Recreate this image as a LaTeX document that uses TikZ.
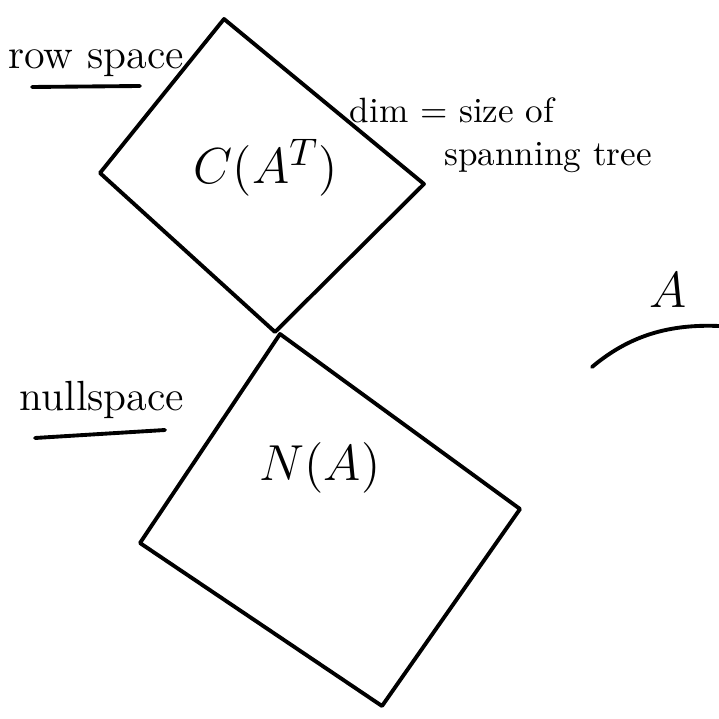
\documentclass[tikz,border=0pt]{standalone}
\usepackage{tikz}
\usetikzlibrary{positioning}
\begin{document}
\begin{tikzpicture}[x=0.1mm,y=-0.1mm,
  edge/.style={line width=1.1pt,line cap=round,line join=round},
  big/.style={font=\fontsize{15}{18}\selectfont,inner sep=1pt},
  note/.style={font=\fontsize{12}{14}\selectfont,inner sep=1pt},
  small/.style={font=\fontsize{10}{12}\selectfont,inner sep=1pt}]
  \useasboundingbox (0,0) rectangle (719,719);
  % row space square
  \coordinate (rt) at (224,19);
  \coordinate (rr) at (424,184);
  \coordinate (rb) at (275,332);
  \coordinate (rl) at (100,173);
  \draw[edge] (rt) -- (rr) -- (rb) -- (rl) -- cycle;
  \node[big] (crow) at (266,168) {$C(A^{T})$};
  \node[note] (rowlbl) at (96,63) {row space};
  \coordinate (rowu1) at (32,87);
  \coordinate (rowu2) at (140,86);
  \draw[edge] (rowu1) -- (rowu2);
  \node[small] (dimlbl) at (452,110) {dim $=$ size of};
  \node[small] (spanlbl) at (548,158) {spanning tree};
  % nullspace square
  \coordinate (nt) at (280,334);
  \coordinate (nr) at (520,509);
  \coordinate (nb) at (382,706);
  \coordinate (nl) at (140,543);
  \draw[edge] (nt) -- (nr) -- (nb) -- (nl) -- cycle;
  \node[big] (nula) at (320,468) {$N(A)$};
  \node[note] (nulllbl) at (102,400) {nullspace};
  \coordinate (nullu1) at (35,438);
  \coordinate (nullu2) at (165,430);
  \draw[edge] (nullu1) -- (nullu2);
  % the matrix
  \node[big] (amat) at (668,290) {$A$};
  \coordinate (arc1) at (592,367);
  \coordinate (arc2) at (719,326);
  \draw[edge] (arc1) .. controls (630,335) and (670,324) .. (arc2);
\end{tikzpicture}
\end{document}
